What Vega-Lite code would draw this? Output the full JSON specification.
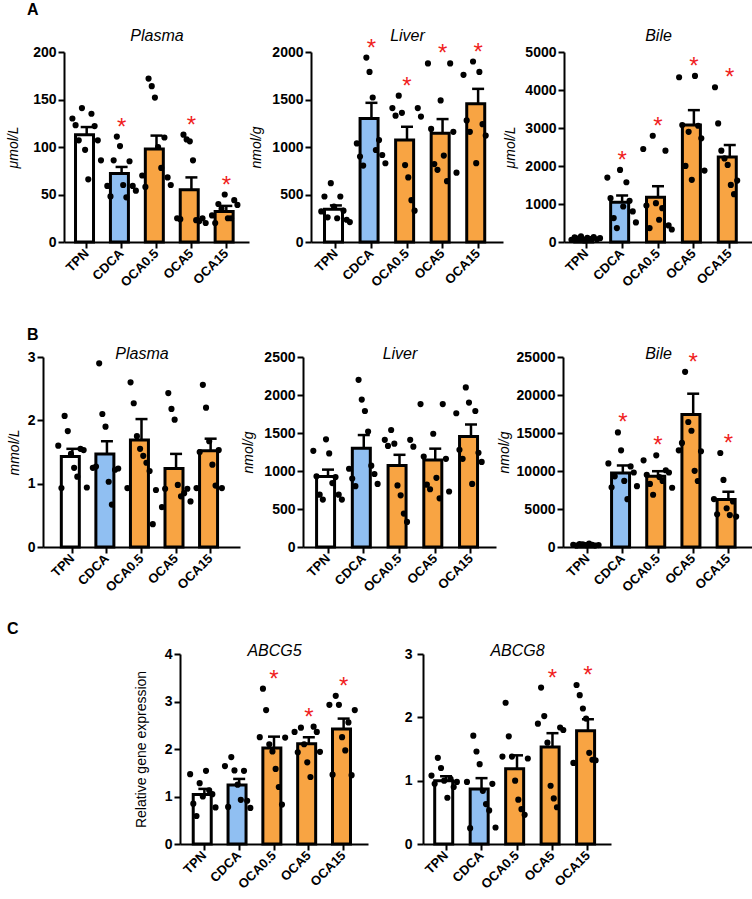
{
  "$schema": "https://vega.github.io/schema/vega-lite/v6.json",
  "background": "white",
  "padding": {"left": 5, "top": 2, "right": 0, "bottom": 0},
  "config": {
    "view": {"stroke": null},
    "font": "Liberation Sans",
    "axis": {"domainColor": "black", "domainWidth": 2, "tickColor": "black", "tickWidth": 2, "tickSize": 6, "labelColor": "black", "labelFont": "Liberation Sans", "labelFontWeight": "bold", "labelFontSize": 13, "labelPadding": 2, "grid": false, "titleFont": "Liberation Sans", "titleFontStyle": "italic", "titleFontWeight": "normal", "titleFontSize": 14, "titleColor": "black", "titlePadding": 8},
    "axisY": {"labelFontSize": 14},
    "axisX": {"labelAngle": -45, "labelAlign": "right", "labelBaseline": "middle", "labelPadding": 3},
    "axisTop": {"titleFontSize": 16, "labels": false, "ticks": false, "domain": false},
    "title": {"font": "Liberation Sans", "fontSize": 16, "fontWeight": "bold", "color": "black", "anchor": "start"},
    "bar": {"width": {"band": 0.64}, "stroke": "black", "strokeWidth": 3},
    "rule": {"strokeWidth": 2.5, "color": "black"},
    "tick": {"thickness": 2.5, "size": 12, "color": "black", "opacity": 1},
    "circle": {"size": 38, "color": "black", "opacity": 1},
    "text": {"text": "*", "color": "#f01e1e", "fontSize": 24, "dy": -9, "baseline": "middle"}
  },
  "datasets": {
    "bars": [
      {"panel": "A1", "group": "TPN", "mean": 113, "upper": 121},
      {"panel": "A1", "group": "CDCA", "mean": 72, "upper": 79},
      {"panel": "A1", "group": "OCA0.5", "mean": 98, "upper": 112},
      {"panel": "A1", "group": "OCA5", "mean": 55, "upper": 68},
      {"panel": "A1", "group": "OCA15", "mean": 32, "upper": 38},
      {"panel": "A2", "group": "TPN", "mean": 346, "upper": 385},
      {"panel": "A2", "group": "CDCA", "mean": 1300, "upper": 1465},
      {"panel": "A2", "group": "OCA0.5", "mean": 1074, "upper": 1213},
      {"panel": "A2", "group": "OCA5", "mean": 1144, "upper": 1294},
      {"panel": "A2", "group": "OCA15", "mean": 1455, "upper": 1612},
      {"panel": "A3", "group": "TPN", "mean": 80, "upper": 110},
      {"panel": "A3", "group": "CDCA", "mean": 1049, "upper": 1224},
      {"panel": "A3", "group": "OCA0.5", "mean": 1180, "upper": 1468},
      {"panel": "A3", "group": "OCA5", "mean": 3077, "upper": 3470},
      {"panel": "A3", "group": "OCA15", "mean": 2238, "upper": 2552},
      {"panel": "B1", "group": "TPN", "mean": 1.43, "upper": 1.55},
      {"panel": "B1", "group": "CDCA", "mean": 1.47, "upper": 1.67},
      {"panel": "B1", "group": "OCA0.5", "mean": 1.69, "upper": 2.02},
      {"panel": "B1", "group": "OCA5", "mean": 1.24, "upper": 1.47},
      {"panel": "B1", "group": "OCA15", "mean": 1.52, "upper": 1.71},
      {"panel": "B2", "group": "TPN", "mean": 927, "upper": 1018},
      {"panel": "B2", "group": "CDCA", "mean": 1300, "upper": 1473},
      {"panel": "B2", "group": "OCA0.5", "mean": 1074, "upper": 1213},
      {"panel": "B2", "group": "OCA5", "mean": 1144, "upper": 1294},
      {"panel": "B2", "group": "OCA15", "mean": 1455, "upper": 1612},
      {"panel": "B3", "group": "TPN", "mean": 300, "upper": 400},
      {"panel": "B3", "group": "CDCA", "mean": 9753, "upper": 10728},
      {"panel": "B3", "group": "OCA0.5", "mean": 9309, "upper": 9974},
      {"panel": "B3", "group": "OCA5", "mean": 17422, "upper": 20171},
      {"panel": "B3", "group": "OCA15", "mean": 6251, "upper": 7270},
      {"panel": "C1", "group": "TPN", "mean": 1.04, "upper": 1.16},
      {"panel": "C1", "group": "CDCA", "mean": 1.24, "upper": 1.37},
      {"panel": "C1", "group": "OCA0.5", "mean": 2.02, "upper": 2.26},
      {"panel": "C1", "group": "OCA5", "mean": 2.11, "upper": 2.25},
      {"panel": "C1", "group": "OCA15", "mean": 2.42, "upper": 2.64},
      {"panel": "C2", "group": "TPN", "mean": 1.0, "upper": 1.07},
      {"panel": "C2", "group": "CDCA", "mean": 0.87, "upper": 1.04},
      {"panel": "C2", "group": "OCA0.5", "mean": 1.19, "upper": 1.4},
      {"panel": "C2", "group": "OCA5", "mean": 1.53, "upper": 1.75},
      {"panel": "C2", "group": "OCA15", "mean": 1.79, "upper": 1.97}
    ],
    "points": [
      {"panel": "A1", "group": "TPN", "value": 130}, {"panel": "A1", "group": "TPN", "value": 123}, {"panel": "A1", "group": "TPN", "value": 107}, {"panel": "A1", "group": "TPN", "value": 141}, {"panel": "A1", "group": "TPN", "value": 97}, {"panel": "A1", "group": "TPN", "value": 66}, {"panel": "A1", "group": "TPN", "value": 135}, {"panel": "A1", "group": "TPN", "value": 122}, {"panel": "A1", "group": "TPN", "value": 107}, {"panel": "A1", "group": "TPN", "value": 86},
      {"panel": "A1", "group": "CDCA", "value": 59}, {"panel": "A1", "group": "CDCA", "value": 48}, {"panel": "A1", "group": "CDCA", "value": 86}, {"panel": "A1", "group": "CDCA", "value": 111}, {"panel": "A1", "group": "CDCA", "value": 101}, {"panel": "A1", "group": "CDCA", "value": 60}, {"panel": "A1", "group": "CDCA", "value": 47}, {"panel": "A1", "group": "CDCA", "value": 85}, {"panel": "A1", "group": "CDCA", "value": 59}, {"panel": "A1", "group": "CDCA", "value": 54},
      {"panel": "A1", "group": "OCA0.5", "value": 70}, {"panel": "A1", "group": "OCA0.5", "value": 58}, {"panel": "A1", "group": "OCA0.5", "value": 172}, {"panel": "A1", "group": "OCA0.5", "value": 164}, {"panel": "A1", "group": "OCA0.5", "value": 152}, {"panel": "A1", "group": "OCA0.5", "value": 100}, {"panel": "A1", "group": "OCA0.5", "value": 78}, {"panel": "A1", "group": "OCA0.5", "value": 110}, {"panel": "A1", "group": "OCA0.5", "value": 68}, {"panel": "A1", "group": "OCA0.5", "value": 60},
      {"panel": "A1", "group": "OCA5", "value": 25}, {"panel": "A1", "group": "OCA5", "value": 24}, {"panel": "A1", "group": "OCA5", "value": 113}, {"panel": "A1", "group": "OCA5", "value": 108}, {"panel": "A1", "group": "OCA5", "value": 106}, {"panel": "A1", "group": "OCA5", "value": 86}, {"panel": "A1", "group": "OCA5", "value": 23}, {"panel": "A1", "group": "OCA5", "value": 22}, {"panel": "A1", "group": "OCA5", "value": 25}, {"panel": "A1", "group": "OCA5", "value": 20},
      {"panel": "A1", "group": "OCA15", "value": 28}, {"panel": "A1", "group": "OCA15", "value": 20}, {"panel": "A1", "group": "OCA15", "value": 40}, {"panel": "A1", "group": "OCA15", "value": 35}, {"panel": "A1", "group": "OCA15", "value": 50}, {"panel": "A1", "group": "OCA15", "value": 25}, {"panel": "A1", "group": "OCA15", "value": 25}, {"panel": "A1", "group": "OCA15", "value": 44}, {"panel": "A1", "group": "OCA15", "value": 39},
      {"panel": "A2", "group": "TPN", "value": 322}, {"panel": "A2", "group": "TPN", "value": 479}, {"panel": "A2", "group": "TPN", "value": 260}, {"panel": "A2", "group": "TPN", "value": 619}, {"panel": "A2", "group": "TPN", "value": 374}, {"panel": "A2", "group": "TPN", "value": 250}, {"panel": "A2", "group": "TPN", "value": 479}, {"panel": "A2", "group": "TPN", "value": 330}, {"panel": "A2", "group": "TPN", "value": 234}, {"panel": "A2", "group": "TPN", "value": 210},
      {"panel": "A2", "group": "CDCA", "value": 1038}, {"panel": "A2", "group": "CDCA", "value": 899}, {"panel": "A2", "group": "CDCA", "value": 804}, {"panel": "A2", "group": "CDCA", "value": 1941}, {"panel": "A2", "group": "CDCA", "value": 1790}, {"panel": "A2", "group": "CDCA", "value": 1521}, {"panel": "A2", "group": "CDCA", "value": 968}, {"panel": "A2", "group": "CDCA", "value": 1073}, {"panel": "A2", "group": "CDCA", "value": 916}, {"panel": "A2", "group": "CDCA", "value": 829},
      {"panel": "A2", "group": "OCA0.5", "value": 1410}, {"panel": "A2", "group": "OCA0.5", "value": 1330}, {"panel": "A2", "group": "OCA0.5", "value": 1540}, {"panel": "A2", "group": "OCA0.5", "value": 1360}, {"panel": "A2", "group": "OCA0.5", "value": 810}, {"panel": "A2", "group": "OCA0.5", "value": 680}, {"panel": "A2", "group": "OCA0.5", "value": 440}, {"panel": "A2", "group": "OCA0.5", "value": 330}, {"panel": "A2", "group": "OCA0.5", "value": 1410}, {"panel": "A2", "group": "OCA0.5", "value": 1320},
      {"panel": "A2", "group": "OCA5", "value": 1880}, {"panel": "A2", "group": "OCA5", "value": 1190}, {"panel": "A2", "group": "OCA5", "value": 820}, {"panel": "A2", "group": "OCA5", "value": 760}, {"panel": "A2", "group": "OCA5", "value": 1490}, {"panel": "A2", "group": "OCA5", "value": 910}, {"panel": "A2", "group": "OCA5", "value": 640}, {"panel": "A2", "group": "OCA5", "value": 1880}, {"panel": "A2", "group": "OCA5", "value": 1160}, {"panel": "A2", "group": "OCA5", "value": 730},
      {"panel": "A2", "group": "OCA15", "value": 1760}, {"panel": "A2", "group": "OCA15", "value": 1280}, {"panel": "A2", "group": "OCA15", "value": 1160}, {"panel": "A2", "group": "OCA15", "value": 1900}, {"panel": "A2", "group": "OCA15", "value": 830}, {"panel": "A2", "group": "OCA15", "value": 1790}, {"panel": "A2", "group": "OCA15", "value": 1240}, {"panel": "A2", "group": "OCA15", "value": 1120},
      {"panel": "A3", "group": "TPN", "value": 60}, {"panel": "A3", "group": "TPN", "value": 120}, {"panel": "A3", "group": "TPN", "value": 90}, {"panel": "A3", "group": "TPN", "value": 150}, {"panel": "A3", "group": "TPN", "value": 40}, {"panel": "A3", "group": "TPN", "value": 110}, {"panel": "A3", "group": "TPN", "value": 80}, {"panel": "A3", "group": "TPN", "value": 130}, {"panel": "A3", "group": "TPN", "value": 70}, {"panel": "A3", "group": "TPN", "value": 100},
      {"panel": "A3", "group": "CDCA", "value": 1696}, {"panel": "A3", "group": "CDCA", "value": 1154}, {"panel": "A3", "group": "CDCA", "value": 629}, {"panel": "A3", "group": "CDCA", "value": 367}, {"panel": "A3", "group": "CDCA", "value": 1897}, {"panel": "A3", "group": "CDCA", "value": 935}, {"panel": "A3", "group": "CDCA", "value": 1573}, {"panel": "A3", "group": "CDCA", "value": 1084}, {"panel": "A3", "group": "CDCA", "value": 804}, {"panel": "A3", "group": "CDCA", "value": 516},
      {"panel": "A3", "group": "OCA0.5", "value": 2447}, {"panel": "A3", "group": "OCA0.5", "value": 960}, {"panel": "A3", "group": "OCA0.5", "value": 367}, {"panel": "A3", "group": "OCA0.5", "value": 2797}, {"panel": "A3", "group": "OCA0.5", "value": 1023}, {"panel": "A3", "group": "OCA0.5", "value": 586}, {"panel": "A3", "group": "OCA0.5", "value": 890}, {"panel": "A3", "group": "OCA0.5", "value": 2404}, {"panel": "A3", "group": "OCA0.5", "value": 437}, {"panel": "A3", "group": "OCA0.5", "value": 330},
      {"panel": "A3", "group": "OCA5", "value": 4336}, {"panel": "A3", "group": "OCA5", "value": 3080}, {"panel": "A3", "group": "OCA5", "value": 2002}, {"panel": "A3", "group": "OCA5", "value": 2900}, {"panel": "A3", "group": "OCA5", "value": 1635}, {"panel": "A3", "group": "OCA5", "value": 4370}, {"panel": "A3", "group": "OCA5", "value": 3060}, {"panel": "A3", "group": "OCA5", "value": 2727}, {"panel": "A3", "group": "OCA5", "value": 1879},
      {"panel": "A3", "group": "OCA15", "value": 4073}, {"panel": "A3", "group": "OCA15", "value": 3121}, {"panel": "A3", "group": "OCA15", "value": 2404}, {"panel": "A3", "group": "OCA15", "value": 2200}, {"panel": "A3", "group": "OCA15", "value": 2028}, {"panel": "A3", "group": "OCA15", "value": 1503}, {"panel": "A3", "group": "OCA15", "value": 1259}, {"panel": "A3", "group": "OCA15", "value": 1617},
      {"panel": "B1", "group": "TPN", "value": 1.6}, {"panel": "B1", "group": "TPN", "value": 0.93}, {"panel": "B1", "group": "TPN", "value": 2.07}, {"panel": "B1", "group": "TPN", "value": 1.83}, {"panel": "B1", "group": "TPN", "value": 1.47}, {"panel": "B1", "group": "TPN", "value": 1.25}, {"panel": "B1", "group": "TPN", "value": 1.11}, {"panel": "B1", "group": "TPN", "value": 1.55}, {"panel": "B1", "group": "TPN", "value": 1.53}, {"panel": "B1", "group": "TPN", "value": 0.94},
      {"panel": "B1", "group": "CDCA", "value": 1.25}, {"panel": "B1", "group": "CDCA", "value": 1.27}, {"panel": "B1", "group": "CDCA", "value": 2.9}, {"panel": "B1", "group": "CDCA", "value": 2.1}, {"panel": "B1", "group": "CDCA", "value": 1.9}, {"panel": "B1", "group": "CDCA", "value": 1.03}, {"panel": "B1", "group": "CDCA", "value": 0.67}, {"panel": "B1", "group": "CDCA", "value": 1.22}, {"panel": "B1", "group": "CDCA", "value": 1.24},
      {"panel": "B1", "group": "OCA0.5", "value": 0.93}, {"panel": "B1", "group": "OCA0.5", "value": 2.6}, {"panel": "B1", "group": "OCA0.5", "value": 2.27}, {"panel": "B1", "group": "OCA0.5", "value": 1.75}, {"panel": "B1", "group": "OCA0.5", "value": 1.55}, {"panel": "B1", "group": "OCA0.5", "value": 1.44}, {"panel": "B1", "group": "OCA0.5", "value": 1.33}, {"panel": "B1", "group": "OCA0.5", "value": 1.2}, {"panel": "B1", "group": "OCA0.5", "value": 0.36}, {"panel": "B1", "group": "OCA0.5", "value": 0.9},
      {"panel": "B1", "group": "OCA5", "value": 0.63}, {"panel": "B1", "group": "OCA5", "value": 0.92}, {"panel": "B1", "group": "OCA5", "value": 2.43}, {"panel": "B1", "group": "OCA5", "value": 2.18}, {"panel": "B1", "group": "OCA5", "value": 2.01}, {"panel": "B1", "group": "OCA5", "value": 0.98}, {"panel": "B1", "group": "OCA5", "value": 0.8}, {"panel": "B1", "group": "OCA5", "value": 0.85}, {"panel": "B1", "group": "OCA5", "value": 0.92}, {"panel": "B1", "group": "OCA5", "value": 0.72},
      {"panel": "B1", "group": "OCA15", "value": 0.93}, {"panel": "B1", "group": "OCA15", "value": 1.5}, {"panel": "B1", "group": "OCA15", "value": 2.56}, {"panel": "B1", "group": "OCA15", "value": 2.2}, {"panel": "B1", "group": "OCA15", "value": 1.67}, {"panel": "B1", "group": "OCA15", "value": 1.3}, {"panel": "B1", "group": "OCA15", "value": 0.97}, {"panel": "B1", "group": "OCA15", "value": 1.53}, {"panel": "B1", "group": "OCA15", "value": 0.93},
      {"panel": "B2", "group": "TPN", "value": 1265}, {"panel": "B2", "group": "TPN", "value": 930}, {"panel": "B2", "group": "TPN", "value": 689}, {"panel": "B2", "group": "TPN", "value": 624}, {"panel": "B2", "group": "TPN", "value": 1417}, {"panel": "B2", "group": "TPN", "value": 1231}, {"panel": "B2", "group": "TPN", "value": 841}, {"panel": "B2", "group": "TPN", "value": 920}, {"panel": "B2", "group": "TPN", "value": 689}, {"panel": "B2", "group": "TPN", "value": 624},
      {"panel": "B2", "group": "CDCA", "value": 1030}, {"panel": "B2", "group": "CDCA", "value": 900}, {"panel": "B2", "group": "CDCA", "value": 800}, {"panel": "B2", "group": "CDCA", "value": 2200}, {"panel": "B2", "group": "CDCA", "value": 1940}, {"panel": "B2", "group": "CDCA", "value": 1790}, {"panel": "B2", "group": "CDCA", "value": 1520}, {"panel": "B2", "group": "CDCA", "value": 1070}, {"panel": "B2", "group": "CDCA", "value": 960}, {"panel": "B2", "group": "CDCA", "value": 830},
      {"panel": "B2", "group": "OCA0.5", "value": 1410}, {"panel": "B2", "group": "OCA0.5", "value": 1330}, {"panel": "B2", "group": "OCA0.5", "value": 1540}, {"panel": "B2", "group": "OCA0.5", "value": 1360}, {"panel": "B2", "group": "OCA0.5", "value": 810}, {"panel": "B2", "group": "OCA0.5", "value": 680}, {"panel": "B2", "group": "OCA0.5", "value": 440}, {"panel": "B2", "group": "OCA0.5", "value": 330}, {"panel": "B2", "group": "OCA0.5", "value": 1410}, {"panel": "B2", "group": "OCA0.5", "value": 1320},
      {"panel": "B2", "group": "OCA5", "value": 1880}, {"panel": "B2", "group": "OCA5", "value": 1190}, {"panel": "B2", "group": "OCA5", "value": 820}, {"panel": "B2", "group": "OCA5", "value": 760}, {"panel": "B2", "group": "OCA5", "value": 1490}, {"panel": "B2", "group": "OCA5", "value": 910}, {"panel": "B2", "group": "OCA5", "value": 640}, {"panel": "B2", "group": "OCA5", "value": 1880}, {"panel": "B2", "group": "OCA5", "value": 1160}, {"panel": "B2", "group": "OCA5", "value": 730},
      {"panel": "B2", "group": "OCA15", "value": 1760}, {"panel": "B2", "group": "OCA15", "value": 1280}, {"panel": "B2", "group": "OCA15", "value": 1160}, {"panel": "B2", "group": "OCA15", "value": 2100}, {"panel": "B2", "group": "OCA15", "value": 1900}, {"panel": "B2", "group": "OCA15", "value": 830}, {"panel": "B2", "group": "OCA15", "value": 1790}, {"panel": "B2", "group": "OCA15", "value": 1240}, {"panel": "B2", "group": "OCA15", "value": 1120},
      {"panel": "B3", "group": "TPN", "value": 300}, {"panel": "B3", "group": "TPN", "value": 200}, {"panel": "B3", "group": "TPN", "value": 400}, {"panel": "B3", "group": "TPN", "value": 350}, {"panel": "B3", "group": "TPN", "value": 250}, {"panel": "B3", "group": "TPN", "value": 450}, {"panel": "B3", "group": "TPN", "value": 300}, {"panel": "B3", "group": "TPN", "value": 200}, {"panel": "B3", "group": "TPN", "value": 250},
      {"panel": "B3", "group": "CDCA", "value": 11000}, {"panel": "B3", "group": "CDCA", "value": 7846}, {"panel": "B3", "group": "CDCA", "value": 9300}, {"panel": "B3", "group": "CDCA", "value": 15072}, {"panel": "B3", "group": "CDCA", "value": 12723}, {"panel": "B3", "group": "CDCA", "value": 8700}, {"panel": "B3", "group": "CDCA", "value": 6295}, {"panel": "B3", "group": "CDCA", "value": 10600}, {"panel": "B3", "group": "CDCA", "value": 9800}, {"panel": "B3", "group": "CDCA", "value": 8000},
      {"panel": "B3", "group": "OCA0.5", "value": 11400}, {"panel": "B3", "group": "OCA0.5", "value": 9500}, {"panel": "B3", "group": "OCA0.5", "value": 8300}, {"panel": "B3", "group": "OCA0.5", "value": 6871}, {"panel": "B3", "group": "OCA0.5", "value": 12058}, {"panel": "B3", "group": "OCA0.5", "value": 9200}, {"panel": "B3", "group": "OCA0.5", "value": 8700}, {"panel": "B3", "group": "OCA0.5", "value": 10100}, {"panel": "B3", "group": "OCA0.5", "value": 9800}, {"panel": "B3", "group": "OCA0.5", "value": 7800},
      {"panel": "B3", "group": "OCA5", "value": 12723}, {"panel": "B3", "group": "OCA5", "value": 13700}, {"panel": "B3", "group": "OCA5", "value": 23052}, {"panel": "B3", "group": "OCA5", "value": 16447}, {"panel": "B3", "group": "OCA5", "value": 15294}, {"panel": "B3", "group": "OCA5", "value": 10019}, {"panel": "B3", "group": "OCA5", "value": 8689}, {"panel": "B3", "group": "OCA5", "value": 12600},
      {"panel": "B3", "group": "OCA15", "value": 6300}, {"panel": "B3", "group": "OCA15", "value": 4300}, {"panel": "B3", "group": "OCA15", "value": 12368}, {"panel": "B3", "group": "OCA15", "value": 8822}, {"panel": "B3", "group": "OCA15", "value": 5100}, {"panel": "B3", "group": "OCA15", "value": 4200}, {"panel": "B3", "group": "OCA15", "value": 6000}, {"panel": "B3", "group": "OCA15", "value": 4000},
      {"panel": "C1", "group": "TPN", "value": 1.47}, {"panel": "C1", "group": "TPN", "value": 0.85}, {"panel": "C1", "group": "TPN", "value": 0.59}, {"panel": "C1", "group": "TPN", "value": 1.28}, {"panel": "C1", "group": "TPN", "value": 1.0}, {"panel": "C1", "group": "TPN", "value": 1.54}, {"panel": "C1", "group": "TPN", "value": 1.13}, {"panel": "C1", "group": "TPN", "value": 1.05}, {"panel": "C1", "group": "TPN", "value": 0.77},
      {"panel": "C1", "group": "CDCA", "value": 1.64}, {"panel": "C1", "group": "CDCA", "value": 0.78}, {"panel": "C1", "group": "CDCA", "value": 1.83}, {"panel": "C1", "group": "CDCA", "value": 1.55}, {"panel": "C1", "group": "CDCA", "value": 1.25}, {"panel": "C1", "group": "CDCA", "value": 0.93}, {"panel": "C1", "group": "CDCA", "value": 1.54}, {"panel": "C1", "group": "CDCA", "value": 0.91}, {"panel": "C1", "group": "CDCA", "value": 0.76},
      {"panel": "C1", "group": "OCA0.5", "value": 2.25}, {"panel": "C1", "group": "OCA0.5", "value": 3.27}, {"panel": "C1", "group": "OCA0.5", "value": 2.82}, {"panel": "C1", "group": "OCA0.5", "value": 2.1}, {"panel": "C1", "group": "OCA0.5", "value": 1.95}, {"panel": "C1", "group": "OCA0.5", "value": 1.58}, {"panel": "C1", "group": "OCA0.5", "value": 1.2}, {"panel": "C1", "group": "OCA0.5", "value": 0.83}, {"panel": "C1", "group": "OCA0.5", "value": 2.24},
      {"panel": "C1", "group": "OCA5", "value": 2.36}, {"panel": "C1", "group": "OCA5", "value": 1.93}, {"panel": "C1", "group": "OCA5", "value": 2.45}, {"panel": "C1", "group": "OCA5", "value": 2.1}, {"panel": "C1", "group": "OCA5", "value": 1.72}, {"panel": "C1", "group": "OCA5", "value": 1.41}, {"panel": "C1", "group": "OCA5", "value": 2.47}, {"panel": "C1", "group": "OCA5", "value": 2.36}, {"panel": "C1", "group": "OCA5", "value": 1.94},
      {"panel": "C1", "group": "OCA15", "value": 2.93}, {"panel": "C1", "group": "OCA15", "value": 1.46}, {"panel": "C1", "group": "OCA15", "value": 3.12}, {"panel": "C1", "group": "OCA15", "value": 2.93}, {"panel": "C1", "group": "OCA15", "value": 2.25}, {"panel": "C1", "group": "OCA15", "value": 1.97}, {"panel": "C1", "group": "OCA15", "value": 2.56}, {"panel": "C1", "group": "OCA15", "value": 1.45}, {"panel": "C1", "group": "OCA15", "value": 2.82},
      {"panel": "C2", "group": "TPN", "value": 1.08}, {"panel": "C2", "group": "TPN", "value": 0.95}, {"panel": "C2", "group": "TPN", "value": 1.36}, {"panel": "C2", "group": "TPN", "value": 1.2}, {"panel": "C2", "group": "TPN", "value": 1.0}, {"panel": "C2", "group": "TPN", "value": 0.73}, {"panel": "C2", "group": "TPN", "value": 1.03}, {"panel": "C2", "group": "TPN", "value": 0.9}, {"panel": "C2", "group": "TPN", "value": 0.98},
      {"panel": "C2", "group": "CDCA", "value": 0.98}, {"panel": "C2", "group": "CDCA", "value": 0.25}, {"panel": "C2", "group": "CDCA", "value": 1.71}, {"panel": "C2", "group": "CDCA", "value": 1.46}, {"panel": "C2", "group": "CDCA", "value": 1.26}, {"panel": "C2", "group": "CDCA", "value": 0.84}, {"panel": "C2", "group": "CDCA", "value": 0.63}, {"panel": "C2", "group": "CDCA", "value": 0.53}, {"panel": "C2", "group": "CDCA", "value": 0.95}, {"panel": "C2", "group": "CDCA", "value": 0.26},
      {"panel": "C2", "group": "OCA0.5", "value": 1.38}, {"panel": "C2", "group": "OCA0.5", "value": 2.23}, {"panel": "C2", "group": "OCA0.5", "value": 1.7}, {"panel": "C2", "group": "OCA0.5", "value": 1.38}, {"panel": "C2", "group": "OCA0.5", "value": 1.0}, {"panel": "C2", "group": "OCA0.5", "value": 0.7}, {"panel": "C2", "group": "OCA0.5", "value": 0.55}, {"panel": "C2", "group": "OCA0.5", "value": 0.46}, {"panel": "C2", "group": "OCA0.5", "value": 1.35},
      {"panel": "C2", "group": "OCA5", "value": 1.9}, {"panel": "C2", "group": "OCA5", "value": 2.47}, {"panel": "C2", "group": "OCA5", "value": 2.02}, {"panel": "C2", "group": "OCA5", "value": 1.6}, {"panel": "C2", "group": "OCA5", "value": 0.92}, {"panel": "C2", "group": "OCA5", "value": 0.72}, {"panel": "C2", "group": "OCA5", "value": 0.58}, {"panel": "C2", "group": "OCA5", "value": 1.84}, {"panel": "C2", "group": "OCA5", "value": 1.8},
      {"panel": "C2", "group": "OCA15", "value": 1.28}, {"panel": "C2", "group": "OCA15", "value": 2.51}, {"panel": "C2", "group": "OCA15", "value": 2.35}, {"panel": "C2", "group": "OCA15", "value": 2.14}, {"panel": "C2", "group": "OCA15", "value": 1.98}, {"panel": "C2", "group": "OCA15", "value": 1.44}, {"panel": "C2", "group": "OCA15", "value": 1.33}, {"panel": "C2", "group": "OCA15", "value": 1.32}
    ]
  },
  "spacing": 37,
  "vconcat": [
    {
      "title": {"text": "A", "dx": 22, "offset": 9},
      "spacing": 0,
      "hconcat": [
        {"width": 1, "height": 190, "data": {"values": []}, "mark": "circle", "encoding": {}},
        {"width": 185, "height": 190,
         "encoding": {"x": {"field": "group", "type": "nominal", "axis": null}},
         "layer": [
          {"data": {"name": "bars"}, "transform": [{"filter": "datum.panel === 'A1'"}], "mark": "bar",
           "encoding": {"x": {"field": "group", "type": "nominal", "scale": {"domain": ["TPN", "CDCA", "OCA0.5", "OCA5", "OCA15"], "paddingInner": 0, "paddingOuter": 0.15}, "axis": {"orient": "bottom", "title": null}},
            "y": {"field": "mean", "type": "quantitative", "title": "μmol/L", "scale": {"domain": [0, 200], "nice": false}, "axis": {"values": [0, 50, 100, 150, 200], "format": "d", "titlePadding": 12}},
            "fill": {"field": "group", "type": "nominal", "scale": {"domain": ["TPN", "CDCA", "OCA0.5", "OCA5", "OCA15"], "range": ["#ffffff", "#90bff2", "#f8a443", "#f8a443", "#f8a443"]}, "legend": null}}},
          {"data": {"name": "bars"}, "transform": [{"filter": "datum.panel === 'A1'"}], "mark": "rule",
           "encoding": {"y": {"field": "mean", "type": "quantitative", "title": "μmol/L", "axis": {"values": [0, 50, 100, 150, 200], "format": "d", "titlePadding": 12}}, "y2": {"field": "upper"}}},
          {"data": {"name": "bars"}, "transform": [{"filter": "datum.panel === 'A1'"}], "mark": "tick",
           "encoding": {"y": {"field": "upper", "type": "quantitative", "title": "μmol/L", "axis": {"values": [0, 50, 100, 150, 200], "format": "d", "titlePadding": 12}}}},
          {"data": {"name": "points"}, "transform": [{"filter": "datum.panel === 'A1'"}, {"window": [{"op": "row_number", "as": "rank"}], "groupby": ["group"]}], "mark": "circle",
           "encoding": {"x": {"field": "group", "type": "nominal", "axis": {"orient": "top", "title": "Plasma", "titlePadding": 9}}, "xOffset": {"field": "rank", "type": "ordinal", "scale": {"paddingOuter": 1}}, "y": {"field": "value", "type": "quantitative", "title": "μmol/L", "axis": {"values": [0, 50, 100, 150, 200], "format": "d", "titlePadding": 12}}}},
          {"data": {"name": "points"}, "transform": [{"filter": "datum.panel === 'A1'"}, {"filter": {"field": "group", "oneOf": ["CDCA", "OCA5", "OCA15"]}}, {"aggregate": [{"op": "max", "field": "value", "as": "top"}], "groupby": ["group"]}], "mark": "text",
           "encoding": {"y": {"field": "top", "type": "quantitative", "title": "μmol/L", "axis": {"values": [0, 50, 100, 150, 200], "format": "d", "titlePadding": 12}}}}
         ]},
        {"width": 192, "height": 190,
         "encoding": {"x": {"field": "group", "type": "nominal", "axis": null}},
         "layer": [
          {"data": {"name": "bars"}, "transform": [{"filter": "datum.panel === 'A2'"}], "mark": "bar",
           "encoding": {"x": {"field": "group", "type": "nominal", "scale": {"domain": ["TPN", "CDCA", "OCA0.5", "OCA5", "OCA15"], "paddingInner": 0, "paddingOuter": 0.2}, "axis": {"orient": "bottom", "title": null}},
            "y": {"field": "mean", "type": "quantitative", "title": "nmol/g", "scale": {"domain": [0, 2000], "nice": false}, "axis": {"values": [0, 500, 1000, 1500, 2000], "format": "d"}},
            "fill": {"field": "group", "type": "nominal", "scale": {"domain": ["TPN", "CDCA", "OCA0.5", "OCA5", "OCA15"], "range": ["#ffffff", "#90bff2", "#f8a443", "#f8a443", "#f8a443"]}, "legend": null}}},
          {"data": {"name": "bars"}, "transform": [{"filter": "datum.panel === 'A2'"}], "mark": "rule",
           "encoding": {"y": {"field": "mean", "type": "quantitative", "title": "nmol/g", "axis": {"values": [0, 500, 1000, 1500, 2000], "format": "d"}}, "y2": {"field": "upper"}}},
          {"data": {"name": "bars"}, "transform": [{"filter": "datum.panel === 'A2'"}], "mark": "tick",
           "encoding": {"y": {"field": "upper", "type": "quantitative", "title": "nmol/g", "axis": {"values": [0, 500, 1000, 1500, 2000], "format": "d"}}}},
          {"data": {"name": "points"}, "transform": [{"filter": "datum.panel === 'A2'"}, {"window": [{"op": "row_number", "as": "rank"}], "groupby": ["group"]}], "mark": "circle",
           "encoding": {"x": {"field": "group", "type": "nominal", "axis": {"orient": "top", "title": "Liver", "titlePadding": 9}}, "xOffset": {"field": "rank", "type": "ordinal", "scale": {"paddingOuter": 1}}, "y": {"field": "value", "type": "quantitative", "title": "nmol/g", "axis": {"values": [0, 500, 1000, 1500, 2000], "format": "d"}}}},
          {"data": {"name": "points"}, "transform": [{"filter": "datum.panel === 'A2'"}, {"filter": {"field": "group", "oneOf": ["CDCA", "OCA0.5", "OCA5", "OCA15"]}}, {"aggregate": [{"op": "max", "field": "value", "as": "top"}], "groupby": ["group"]}], "mark": "text",
           "encoding": {"y": {"field": "top", "type": "quantitative", "title": "nmol/g", "axis": {"values": [0, 500, 1000, 1500, 2000], "format": "d"}}}}
         ]},
        {"width": 188, "height": 190,
         "encoding": {"x": {"field": "group", "type": "nominal", "axis": null}},
         "layer": [
          {"data": {"name": "bars"}, "transform": [{"filter": "datum.panel === 'A3'"}], "mark": "bar",
           "encoding": {"x": {"field": "group", "type": "nominal", "scale": {"domain": ["TPN", "CDCA", "OCA0.5", "OCA5", "OCA15"], "paddingInner": 0, "paddingOuter": 0.12}, "axis": {"orient": "bottom", "title": null}},
            "y": {"field": "mean", "type": "quantitative", "title": "μmol/L", "scale": {"domain": [0, 5000], "nice": false}, "axis": {"values": [0, 1000, 2000, 3000, 4000, 5000], "format": "d", "titlePadding": 7}},
            "fill": {"field": "group", "type": "nominal", "scale": {"domain": ["TPN", "CDCA", "OCA0.5", "OCA5", "OCA15"], "range": ["#ffffff", "#90bff2", "#f8a443", "#f8a443", "#f8a443"]}, "legend": null}}},
          {"data": {"name": "bars"}, "transform": [{"filter": "datum.panel === 'A3'"}], "mark": "rule",
           "encoding": {"y": {"field": "mean", "type": "quantitative", "title": "μmol/L", "axis": {"values": [0, 1000, 2000, 3000, 4000, 5000], "format": "d", "titlePadding": 7}}, "y2": {"field": "upper"}}},
          {"data": {"name": "bars"}, "transform": [{"filter": "datum.panel === 'A3'"}], "mark": "tick",
           "encoding": {"y": {"field": "upper", "type": "quantitative", "title": "μmol/L", "axis": {"values": [0, 1000, 2000, 3000, 4000, 5000], "format": "d", "titlePadding": 7}}}},
          {"data": {"name": "points"}, "transform": [{"filter": "datum.panel === 'A3'"}, {"window": [{"op": "row_number", "as": "rank"}], "groupby": ["group"]}], "mark": "circle",
           "encoding": {"x": {"field": "group", "type": "nominal", "axis": {"orient": "top", "title": "Bile", "titlePadding": 9}}, "xOffset": {"field": "rank", "type": "ordinal", "scale": {"paddingOuter": 1}}, "y": {"field": "value", "type": "quantitative", "title": "μmol/L", "axis": {"values": [0, 1000, 2000, 3000, 4000, 5000], "format": "d", "titlePadding": 7}}}},
          {"data": {"name": "points"}, "transform": [{"filter": "datum.panel === 'A3'"}, {"filter": {"field": "group", "oneOf": ["CDCA", "OCA0.5", "OCA5", "OCA15"]}}, {"aggregate": [{"op": "max", "field": "value", "as": "top"}], "groupby": ["group"]}], "mark": "text",
           "encoding": {"y": {"field": "top", "type": "quantitative", "title": "μmol/L", "axis": {"values": [0, 1000, 2000, 3000, 4000, 5000], "format": "d", "titlePadding": 7}}}}
         ]}
      ]
    },
    {
      "spacing": 26,
      "vconcat": [
        {
          "title": {"text": "B", "dx": 22, "offset": 2},
          "spacing": 1,
          "hconcat": [
            {"width": 1, "height": 190, "data": {"values": []}, "mark": "circle", "encoding": {}},
            {"width": 197, "height": 190,
             "encoding": {"x": {"field": "group", "type": "nominal", "axis": null}},
             "layer": [
              {"data": {"name": "bars"}, "transform": [{"filter": "datum.panel === 'B1'"}], "mark": "bar",
               "encoding": {"x": {"field": "group", "type": "nominal", "scale": {"domain": ["TPN", "CDCA", "OCA0.5", "OCA5", "OCA15"], "paddingInner": 0, "paddingOuter": 0.35}, "axis": {"orient": "bottom", "title": null}},
                "y": {"field": "mean", "type": "quantitative", "title": "mmol/L", "scale": {"domain": [0, 3], "nice": false}, "axis": {"values": [0, 1, 2, 3], "format": "d", "titlePadding": 6}},
                "fill": {"field": "group", "type": "nominal", "scale": {"domain": ["TPN", "CDCA", "OCA0.5", "OCA5", "OCA15"], "range": ["#ffffff", "#90bff2", "#f8a443", "#f8a443", "#f8a443"]}, "legend": null}}},
              {"data": {"name": "bars"}, "transform": [{"filter": "datum.panel === 'B1'"}], "mark": "rule",
               "encoding": {"y": {"field": "mean", "type": "quantitative", "title": "mmol/L", "axis": {"values": [0, 1, 2, 3], "format": "d", "titlePadding": 6}}, "y2": {"field": "upper"}}},
              {"data": {"name": "bars"}, "transform": [{"filter": "datum.panel === 'B1'"}], "mark": "tick",
               "encoding": {"y": {"field": "upper", "type": "quantitative", "title": "mmol/L", "axis": {"values": [0, 1, 2, 3], "format": "d", "titlePadding": 6}}}},
              {"data": {"name": "points"}, "transform": [{"filter": "datum.panel === 'B1'"}, {"window": [{"op": "row_number", "as": "rank"}], "groupby": ["group"]}], "mark": "circle",
               "encoding": {"x": {"field": "group", "type": "nominal", "axis": {"orient": "top", "title": "Plasma", "titlePadding": -4}}, "xOffset": {"field": "rank", "type": "ordinal", "scale": {"paddingOuter": 1}}, "y": {"field": "value", "type": "quantitative", "title": "mmol/L", "axis": {"values": [0, 1, 2, 3], "format": "d", "titlePadding": 6}}}}
             ]},
            {"width": 193, "height": 190,
             "encoding": {"x": {"field": "group", "type": "nominal", "axis": null}},
             "layer": [
              {"data": {"name": "bars"}, "transform": [{"filter": "datum.panel === 'B2'"}], "mark": "bar",
               "encoding": {"x": {"field": "group", "type": "nominal", "scale": {"domain": ["TPN", "CDCA", "OCA0.5", "OCA5", "OCA15"], "paddingInner": 0, "paddingOuter": 0.2}, "axis": {"orient": "bottom", "title": null}},
                "y": {"field": "mean", "type": "quantitative", "title": "nmol/g", "scale": {"domain": [0, 2500], "nice": false}, "axis": {"values": [0, 500, 1000, 1500, 2000, 2500], "format": "d"}},
                "fill": {"field": "group", "type": "nominal", "scale": {"domain": ["TPN", "CDCA", "OCA0.5", "OCA5", "OCA15"], "range": ["#ffffff", "#90bff2", "#f8a443", "#f8a443", "#f8a443"]}, "legend": null}}},
              {"data": {"name": "bars"}, "transform": [{"filter": "datum.panel === 'B2'"}], "mark": "rule",
               "encoding": {"y": {"field": "mean", "type": "quantitative", "title": "nmol/g", "axis": {"values": [0, 500, 1000, 1500, 2000, 2500], "format": "d"}}, "y2": {"field": "upper"}}},
              {"data": {"name": "bars"}, "transform": [{"filter": "datum.panel === 'B2'"}], "mark": "tick",
               "encoding": {"y": {"field": "upper", "type": "quantitative", "title": "nmol/g", "axis": {"values": [0, 500, 1000, 1500, 2000, 2500], "format": "d"}}}},
              {"data": {"name": "points"}, "transform": [{"filter": "datum.panel === 'B2'"}, {"window": [{"op": "row_number", "as": "rank"}], "groupby": ["group"]}], "mark": "circle",
               "encoding": {"x": {"field": "group", "type": "nominal", "axis": {"orient": "top", "title": "Liver", "titlePadding": -4}}, "xOffset": {"field": "rank", "type": "ordinal", "scale": {"paddingOuter": 1}}, "y": {"field": "value", "type": "quantitative", "title": "nmol/g", "axis": {"values": [0, 500, 1000, 1500, 2000, 2500], "format": "d"}}}}
             ]},
            {"width": 190, "height": 190,
             "encoding": {"x": {"field": "group", "type": "nominal", "axis": null}},
             "layer": [
              {"data": {"name": "bars"}, "transform": [{"filter": "datum.panel === 'B3'"}], "mark": "bar",
               "encoding": {"x": {"field": "group", "type": "nominal", "scale": {"domain": ["TPN", "CDCA", "OCA0.5", "OCA5", "OCA15"], "paddingInner": 0, "paddingOuter": 0.2}, "axis": {"orient": "bottom", "title": null}},
                "y": {"field": "mean", "type": "quantitative", "title": "nmol/g", "scale": {"domain": [0, 25000], "nice": false}, "axis": {"values": [0, 5000, 10000, 15000, 20000, 25000], "format": "d", "titlePadding": 5}},
                "fill": {"field": "group", "type": "nominal", "scale": {"domain": ["TPN", "CDCA", "OCA0.5", "OCA5", "OCA15"], "range": ["#ffffff", "#90bff2", "#f8a443", "#f8a443", "#f8a443"]}, "legend": null}}},
              {"data": {"name": "bars"}, "transform": [{"filter": "datum.panel === 'B3'"}], "mark": "rule",
               "encoding": {"y": {"field": "mean", "type": "quantitative", "title": "nmol/g", "axis": {"values": [0, 5000, 10000, 15000, 20000, 25000], "format": "d", "titlePadding": 5}}, "y2": {"field": "upper"}}},
              {"data": {"name": "bars"}, "transform": [{"filter": "datum.panel === 'B3'"}], "mark": "tick",
               "encoding": {"y": {"field": "upper", "type": "quantitative", "title": "nmol/g", "axis": {"values": [0, 5000, 10000, 15000, 20000, 25000], "format": "d", "titlePadding": 5}}}},
              {"data": {"name": "points"}, "transform": [{"filter": "datum.panel === 'B3'"}, {"window": [{"op": "row_number", "as": "rank"}], "groupby": ["group"]}], "mark": "circle",
               "encoding": {"x": {"field": "group", "type": "nominal", "axis": {"orient": "top", "title": "Bile", "titlePadding": -4}}, "xOffset": {"field": "rank", "type": "ordinal", "scale": {"paddingOuter": 1}}, "y": {"field": "value", "type": "quantitative", "title": "nmol/g", "axis": {"values": [0, 5000, 10000, 15000, 20000, 25000], "format": "d", "titlePadding": 5}}}},
              {"data": {"name": "points"}, "transform": [{"filter": "datum.panel === 'B3'"}, {"filter": {"field": "group", "oneOf": ["CDCA", "OCA0.5", "OCA5", "OCA15"]}}, {"aggregate": [{"op": "max", "field": "value", "as": "top"}], "groupby": ["group"]}], "mark": "text",
               "encoding": {"y": {"field": "top", "type": "quantitative", "title": "nmol/g", "axis": {"values": [0, 5000, 10000, 15000, 20000, 25000], "format": "d", "titlePadding": 5}}}}
             ]}
          ]
        },
        {
          "title": {"text": "C", "dx": 2, "offset": 5},
          "spacing": 36,
          "hconcat": [
            {"width": 93, "height": 190, "data": {"values": []}, "mark": "circle", "encoding": {}},
            {"width": 188, "height": 190,
             "encoding": {"x": {"field": "group", "type": "nominal", "axis": null}},
             "layer": [
              {"data": {"name": "bars"}, "transform": [{"filter": "datum.panel === 'C1'"}], "mark": "bar",
               "encoding": {"x": {"field": "group", "type": "nominal", "scale": {"domain": ["TPN", "CDCA", "OCA0.5", "OCA5", "OCA15"], "paddingInner": 0, "paddingOuter": 0.2}, "axis": {"orient": "bottom", "title": null}},
                "y": {"field": "mean", "type": "quantitative", "title": "Relative gene expression", "scale": {"domain": [0, 4], "nice": false}, "axis": {"values": [0, 1, 2, 3, 4], "format": "d", "titleFontStyle": "normal", "titleFontSize": 14, "titlePadding": 16}},
                "fill": {"field": "group", "type": "nominal", "scale": {"domain": ["TPN", "CDCA", "OCA0.5", "OCA5", "OCA15"], "range": ["#ffffff", "#90bff2", "#f8a443", "#f8a443", "#f8a443"]}, "legend": null}}},
              {"data": {"name": "bars"}, "transform": [{"filter": "datum.panel === 'C1'"}], "mark": "rule",
               "encoding": {"y": {"field": "mean", "type": "quantitative", "title": "Relative gene expression", "axis": {"values": [0, 1, 2, 3, 4], "format": "d", "titleFontStyle": "normal", "titleFontSize": 14, "titlePadding": 16}}, "y2": {"field": "upper"}}},
              {"data": {"name": "bars"}, "transform": [{"filter": "datum.panel === 'C1'"}], "mark": "tick",
               "encoding": {"y": {"field": "upper", "type": "quantitative", "title": "Relative gene expression", "axis": {"values": [0, 1, 2, 3, 4], "format": "d", "titleFontStyle": "normal", "titleFontSize": 14, "titlePadding": 16}}}},
              {"data": {"name": "points"}, "transform": [{"filter": "datum.panel === 'C1'"}, {"window": [{"op": "row_number", "as": "rank"}], "groupby": ["group"]}], "mark": "circle",
               "encoding": {"x": {"field": "group", "type": "nominal", "axis": {"orient": "top", "title": "ABCG5", "titlePadding": -4}}, "xOffset": {"field": "rank", "type": "ordinal", "scale": {"paddingOuter": 1}}, "y": {"field": "value", "type": "quantitative", "title": "Relative gene expression", "axis": {"values": [0, 1, 2, 3, 4], "format": "d", "titleFontStyle": "normal", "titleFontSize": 14, "titlePadding": 16}}}},
              {"data": {"name": "points"}, "transform": [{"filter": "datum.panel === 'C1'"}, {"filter": {"field": "group", "oneOf": ["OCA0.5", "OCA5", "OCA15"]}}, {"aggregate": [{"op": "max", "field": "value", "as": "top"}], "groupby": ["group"]}], "mark": "text",
               "encoding": {"y": {"field": "top", "type": "quantitative", "title": "Relative gene expression", "axis": {"values": [0, 1, 2, 3, 4], "format": "d", "titleFontStyle": "normal", "titleFontSize": 14, "titlePadding": 16}}}}
             ]},
            {"width": 188, "height": 190,
             "encoding": {"x": {"field": "group", "type": "nominal", "axis": null}},
             "layer": [
              {"data": {"name": "bars"}, "transform": [{"filter": "datum.panel === 'C2'"}], "mark": "bar",
               "encoding": {"x": {"field": "group", "type": "nominal", "scale": {"domain": ["TPN", "CDCA", "OCA0.5", "OCA5", "OCA15"], "paddingInner": 0, "paddingOuter": 0.15}, "axis": {"orient": "bottom", "title": null}},
                "y": {"field": "mean", "type": "quantitative", "title": null, "scale": {"domain": [0, 3], "nice": false}, "axis": {"values": [0, 1, 2, 3], "format": "d", "labelPadding": 5}},
                "fill": {"field": "group", "type": "nominal", "scale": {"domain": ["TPN", "CDCA", "OCA0.5", "OCA5", "OCA15"], "range": ["#ffffff", "#90bff2", "#f8a443", "#f8a443", "#f8a443"]}, "legend": null}}},
              {"data": {"name": "bars"}, "transform": [{"filter": "datum.panel === 'C2'"}], "mark": "rule",
               "encoding": {"y": {"field": "mean", "type": "quantitative", "title": null, "axis": {"values": [0, 1, 2, 3], "format": "d", "labelPadding": 5}}, "y2": {"field": "upper"}}},
              {"data": {"name": "bars"}, "transform": [{"filter": "datum.panel === 'C2'"}], "mark": "tick",
               "encoding": {"y": {"field": "upper", "type": "quantitative", "title": null, "axis": {"values": [0, 1, 2, 3], "format": "d", "labelPadding": 5}}}},
              {"data": {"name": "points"}, "transform": [{"filter": "datum.panel === 'C2'"}, {"window": [{"op": "row_number", "as": "rank"}], "groupby": ["group"]}], "mark": "circle",
               "encoding": {"x": {"field": "group", "type": "nominal", "axis": {"orient": "top", "title": "ABCG8", "titlePadding": -4}}, "xOffset": {"field": "rank", "type": "ordinal", "scale": {"paddingOuter": 1}}, "y": {"field": "value", "type": "quantitative", "title": null, "axis": {"values": [0, 1, 2, 3], "format": "d", "labelPadding": 5}}}},
              {"data": {"name": "points"}, "transform": [{"filter": "datum.panel === 'C2'"}, {"filter": {"field": "group", "oneOf": ["OCA5", "OCA15"]}}, {"aggregate": [{"op": "max", "field": "value", "as": "top"}], "groupby": ["group"]}], "mark": "text",
               "encoding": {"y": {"field": "top", "type": "quantitative", "title": null, "axis": {"values": [0, 1, 2, 3], "format": "d", "labelPadding": 5}}}}
             ]}
          ]
        }
      ]
    }
  ]
}
